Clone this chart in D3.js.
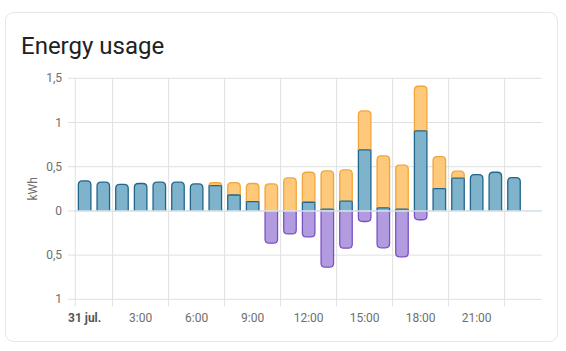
<!DOCTYPE html>
<html>
<head>
<meta charset="utf-8">
<script src="https://cdn.jsdelivr.net/npm/d3@7"></script>
<style>
  body { margin: 0; background: #fff; font-family: Roboto, "Noto Sans", sans-serif; }
</style>
</head>
<body>
<script>
// hourly values, kWh
const hours = d3.range(24)
const gridUse  = [0.34, 0.325, 0.30, 0.31, 0.325, 0.325, 0.305, 0.285, 0.18, 0.105, 0, 0, 0.098, 0.02, 0.11, 0.69, 0.034, 0.02, 0.905, 0.253, 0.37, 0.41, 0.437, 0.377]
const solarUse = [0, 0, 0, 0, 0, 0, 0, 0.035, 0.14, 0.205, 0.305, 0.373, 0.339, 0.432, 0.354, 0.441, 0.588, 0.497, 0.505, 0.362, 0.079, 0, 0, 0]
const returned = [0, 0, 0, 0, 0, 0, 0, 0, 0, 0, 0.365, 0.26, 0.294, 0.637, 0.422, 0.12, 0.418, 0.52, 0.10, 0, 0, 0, 0, 0]
const yTicks = [-1, -0.5, 0, 0.5, 1, 1.5]
const xLabels = ['31 jul.', '3:00', '6:00', '9:00', '12:00', '15:00', '18:00', '21:00']

const W = 566, H = 351
const svg = d3.select('body').append('svg')
    .attr('width', W)
    .attr('height', H)

// card
svg.append('rect')
    .attr('x', 5.5).attr('y', 12.5)
    .attr('width', 552).attr('height', 329)
    .attr('rx', 8)
    .attr('fill', '#fff')
    .attr('stroke', '#e6e6e6')

svg.append('text')
    .attr('x', 21).attr('y', 54)
    .attr('font-size', 24)
    .attr('fill', '#212121')
    .text('Energy usage')

const x = d3.scaleBand().domain(d3.range(25)).range([75.3, 542]).padding(0)
const y = d3.scaleLinear().domain([-1, 1.5]).range([299.3, 78.3])
const step = x.step()
const barW = 12.5

// horizontal grid
svg.append('g').selectAll('line')
    .data(yTicks)
    .join('line')
    .attr('x1', 68).attr('x2', 542)
    .attr('y1', d => y(d)).attr('y2', d => y(d))
    .attr('stroke', '#e0e0e0')

// vertical grid
const vLines = [0].concat(d3.range(1, 9).map(k => 3 * k - 1))
svg.append('g').selectAll('line')
    .data(vLines)
    .join('line')
    .attr('x1', d => x(d)).attr('x2', d => x(d))
    .attr('y1', y(1.5)).attr('y2', y(-1) + 7)
    .attr('stroke', '#e0e0e0')

// y tick labels
svg.append('g').selectAll('text')
    .data(yTicks)
    .join('text')
    .attr('x', 62)
    .attr('y', d => y(d) + 4)
    .attr('text-anchor', 'end')
    .attr('font-size', 12)
    .attr('fill', '#6e6e6e')
    .text(d => String(Math.abs(d)).replace('.', ','))

svg.append('text')
    .attr('transform', `translate(37,${(y(1.5) + y(-1)) / 2}) rotate(-90)`)
    .attr('text-anchor', 'middle')
    .attr('font-size', 12)
    .attr('fill', '#6e6e6e')
    .text('kWh')

// x tick labels
svg.append('g').selectAll('text')
    .data(xLabels)
    .join('text')
    .attr('x', (d, i) => x(i * 3) + step / 2)
    .attr('y', 322)
    .attr('text-anchor', 'middle')
    .attr('font-size', 12)
    .attr('font-weight', (d, i) => i === 0 ? 'bold' : 'normal')
    .attr('fill', (d, i) => i === 0 ? '#555' : '#6e6e6e')
    .text(d => d)

// segments: [from, to] in kWh; rounded end is "to"
let segs = []
for (let h of hours) {
    const cx = x(h) + step / 2
    const g = gridUse[h], s = solarUse[h], r = returned[h]
    if (g > 0) segs.push({cx, a: 0, b: g, round: s === 0, fill: '#7fb3cb', stroke: '#21668c'})
    if (s > 0) segs.push({cx, a: g, b: g + s, round: true, fill: '#ffc97b', stroke: '#f2a53a'})
    if (r > 0) segs.push({cx, a: 0, b: -r, round: true, fill: '#b39be0', stroke: '#7b52c4'})
}

function fillPath(d) {
    const x0 = d.cx - barW / 2, x1 = d.cx + barW / 2
    const ya = y(d.a), yb = y(d.b)
    const dir = yb < ya ? 1 : -1   // 1 = bar goes up
    const rad = d.round ? Math.min(4, Math.abs(ya - yb)) : 0
    const p = d3.path()
    p.moveTo(x0, ya)
    p.lineTo(x0, yb + dir * rad)
    if (rad) p.quadraticCurveTo(x0, yb, x0 + rad, yb)
    p.lineTo(x1 - rad, yb)
    if (rad) p.quadraticCurveTo(x1, yb, x1, yb + dir * rad)
    p.lineTo(x1, ya)
    return p
}

const bars = svg.append('g')
bars.selectAll('path.fill')
    .data(segs)
    .join('path')
    .attr('class', 'fill')
    .attr('d', d => { const p = fillPath(d); p.closePath(); return p.toString() })
    .attr('fill', d => d.fill)

// border, base side skipped
bars.selectAll('path.edge')
    .data(segs)
    .join('path')
    .attr('class', 'edge')
    .attr('d', d => fillPath(d).toString())
    .attr('fill', 'none')
    .attr('stroke', d => d.stroke)
    .attr('stroke-width', 1.3)

// zero line over the bars
svg.append('line')
    .attr('x1', 75.3).attr('x2', 542)
    .attr('y1', y(0)).attr('y2', y(0))
    .attr('stroke', '#d4e3ec')
    .attr('stroke-width', 1.5)
</script>
</body>
</html>
